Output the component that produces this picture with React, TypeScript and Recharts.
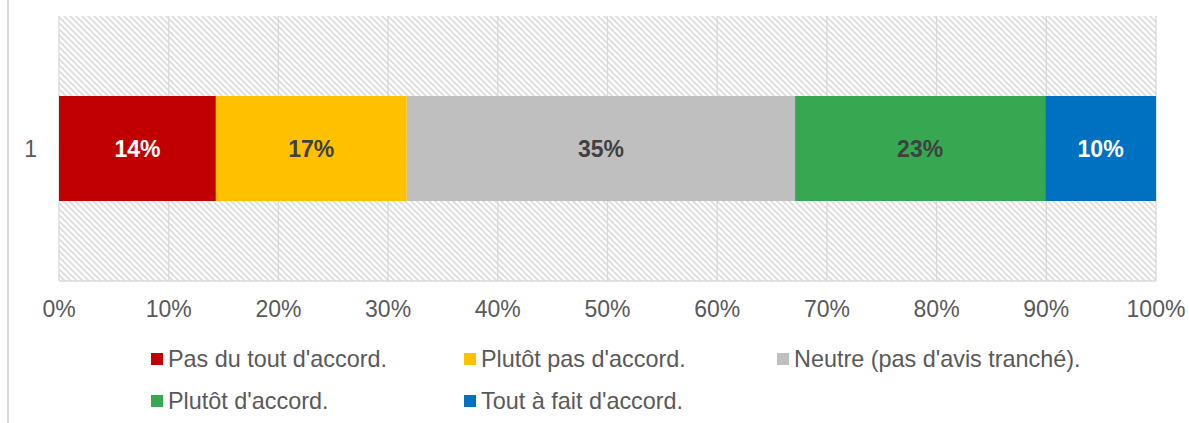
import { BarChart, Bar, XAxis, YAxis, CartesianGrid, LabelList } from 'recharts';

const categories = ['1'];
const seriesNames = [
  "Pas du tout d'accord.",
  "Plutôt pas d'accord.",
  "Neutre (pas d'avis tranché).",
  "Plutôt d'accord.",
  "Tout à fait d'accord.",
];
const seriesValues = [14.3, 17.4, 35.4, 22.8, 10.1];
const seriesColors = ['#C00000', '#FFC000', '#BFBFBF', '#36A852', '#0070C0'];
const labelColors = ['#FFFFFF', '#404040', '#404040', '#404040', '#FFFFFF'];
const xTicks = [0, 10, 20, 30, 40, 50, 60, 70, 80, 90, 100];

const data = categories.map((name) => {
  const row: Record<string, string | number> = { name };
  seriesValues.forEach((v, i) => {
    row['s' + i] = v;
  });
  return row;
});

const font = 'Liberation Sans, Arial, sans-serif';

export default function App() {
  return (
    <div style={{ position: 'absolute', left: 0, top: 0, width: 1189, height: 423, background: '#fff', fontFamily: font }}>
      <div style={{ position: 'absolute', left: 7, top: 0, width: 1.5, height: 423, background: '#d9d9d9' }} />
      <BarChart
        width={1189}
        height={330}
        data={data}
        layout="vertical"
        margin={{ top: 16, right: 33, left: 0, bottom: 9 }}
      >
        <defs>
          <pattern id="hatch" patternUnits="userSpaceOnUse" width="6" height="6">
            <rect width="6" height="6" fill="#ffffff" />
            <path d="M0,0 L6,6 M-1,5 L1,7 M5,-1 L7,1" stroke="#dcdcdc" strokeWidth={1.7} />
          </pattern>
        </defs>
        <CartesianGrid
          horizontal={false}
          stroke="#d9d9d9"
          strokeWidth={1.3}
          fill="url(#hatch)"
          fillOpacity={1}
        />
        <XAxis
          type="number"
          domain={[0, 100]}
          ticks={xTicks}
          interval={0}
          tickFormatter={(v) => `${v}%`}
          tickLine={false}
          tickSize={0}
          tickMargin={20}
          height={40}
          axisLine={{ stroke: '#d9d9d9', strokeWidth: 1.3 }}
          tick={{ fontSize: 23, fill: '#595959', fontFamily: font }}
        />
        <XAxis
          xAxisId="top"
          orientation="top"
          type="number"
          domain={[0, 100]}
          tick={false}
          tickLine={false}
          height={0}
          axisLine={{ stroke: '#d9d9d9', strokeWidth: 1.3 }}
        />
        <YAxis
          type="category"
          dataKey="name"
          width={59}
          tickLine={false}
          axisLine={false}
          tickSize={0}
          tickMargin={22}
          tick={{ fontSize: 23, fill: '#595959', fontFamily: font }}
        />
        {seriesNames.map((n, i) => (
          <Bar
            key={n}
            dataKey={'s' + i}
            name={n}
            stackId="a"
            fill={seriesColors[i]}
            barSize={105}
            isAnimationActive={false}
          >
            <LabelList
              dataKey={'s' + i}
              position="center"
              formatter={(v: any) => `${Math.round(Number(v))}%`}
              fill={labelColors[i]}
              style={{ fontSize: 23, fontWeight: 'bold', fontFamily: font }}
            />
          </Bar>
        ))}
      </BarChart>
      <div style={{ position: 'absolute', left: 151, top: 344, width: 960, display: 'flex', flexWrap: 'wrap', rowGap: 12 }}>
        {seriesNames.map((n, i) => (
          <div key={n} style={{ width: 313, height: 30, display: 'flex', alignItems: 'center', fontSize: 23.4, color: '#595959' }}>
            <span style={{ display: 'inline-block', width: 12, height: 12, background: seriesColors[i], marginRight: 5 }} />
            <span>{n}</span>
          </div>
        ))}
      </div>
    </div>
  );
}
